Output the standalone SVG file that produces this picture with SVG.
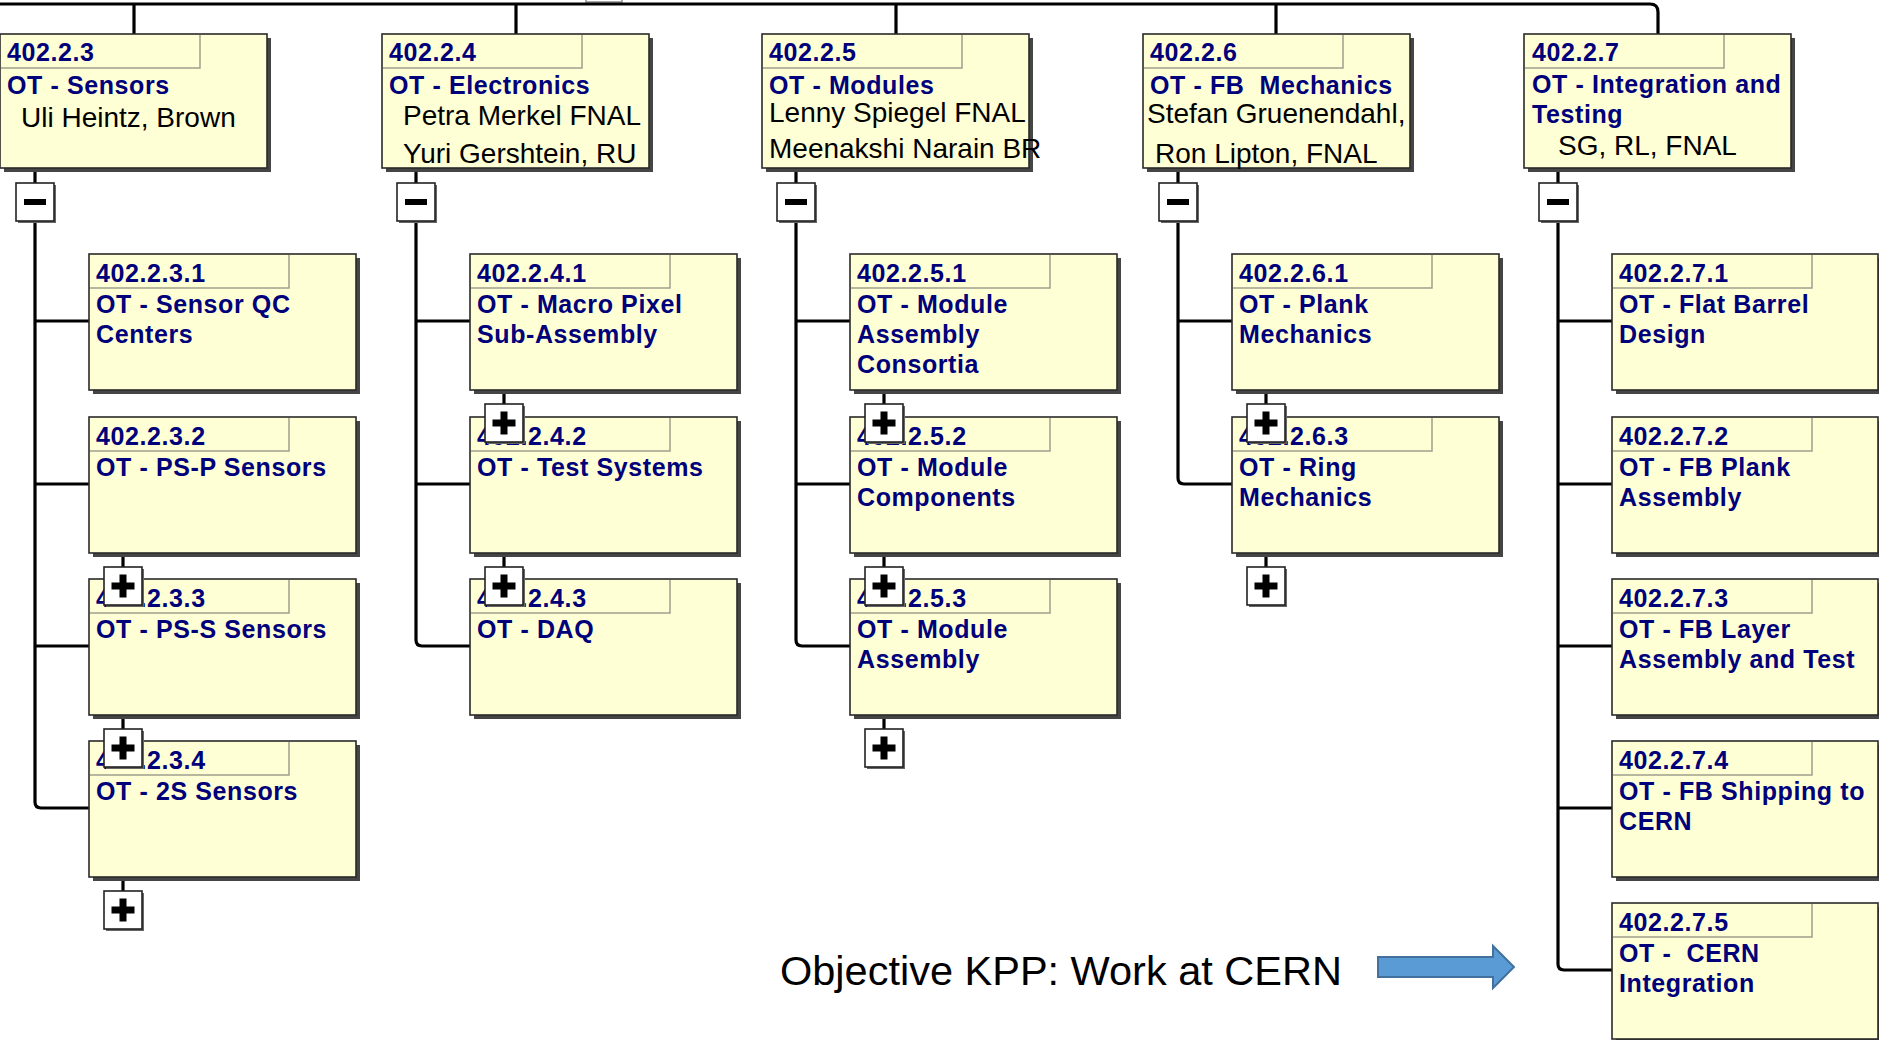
<svg xmlns="http://www.w3.org/2000/svg" width="1879" height="1040" viewBox="0 0 1879 1040">
<style>
.bg{fill:#ffffff}
.ln{fill:none;stroke:#000;stroke-width:3.2;stroke-linejoin:round}
.sh{fill:#454545}
.bx{fill:#ffffd6;stroke:#2a2a2a;stroke-width:1.6}
.idc{fill:none;stroke:#a09f8c;stroke-width:1.5}
.id,.t{font-family:"Liberation Sans",Arial,sans-serif;font-weight:bold;font-size:25px;letter-spacing:0.6px;fill:#00007a;white-space:pre}
.nm{font-family:"Liberation Sans",Arial,sans-serif;font-size:28px;fill:#000}
.tg{fill:#fff;stroke:#222;stroke-width:1.6}
.tgs{fill:#666}
.gl{fill:#000}
.obj{font-family:"Liberation Sans",Arial,sans-serif;font-size:41.5px;fill:#000}
</style>
<defs>
<g id="minus"><rect class="tgs" x="2" y="2" width="38" height="38"/><rect class="tg" width="38" height="38"/><rect class="gl" x="8" y="16" width="22" height="6"/></g>
<g id="plus"><rect class="tgs" x="2" y="2" width="38" height="38"/><rect class="tg" width="38" height="38"/><rect class="gl" x="7.5" y="15.5" width="23" height="7"/><rect class="gl" x="15.5" y="7.5" width="7" height="23"/></g>
</defs>
<rect class="bg" width="1879" height="1040"/>
<rect x="586" y="-20" width="36" height="22" fill="#fff" stroke="#8a8a8a" stroke-width="1.5"/>

<g id="connectors">
<path class="ln" d="M0,4H1650Q1658,4 1658,12V34M134,4V34M516,4V34M896,4V34M1276,4V34"/>
<path class="ln" d="M35,168V183M35,221V802Q35,808 41,808H89M35,321H89M35,484H89M35,646H89M123,553V567M123,715V729M123,877V891"/>
<path class="ln" d="M416,168V183M416,221V640Q416,646 422,646H470M416,321H470M416,484H470M504,390V404M504,553V567"/>
<path class="ln" d="M796,168V183M796,221V640Q796,646 802,646H850M796,321H850M796,484H850M884,390V404M884,553V567M884,715V729"/>
<path class="ln" d="M1178,168V183M1178,221V478Q1178,484 1184,484H1232M1178,321H1232M1266,390V404M1266,553V567"/>
<path class="ln" d="M1558,168V183M1558,221V964Q1558,970 1564,970H1612M1558,321H1612M1558,484H1612M1558,646H1612M1558,808H1612"/>
</g>

<g id="n402.2.3" transform="translate(0,34)">
<rect class="sh" x="4" y="4" width="267" height="134"/><rect class="bx" width="267" height="134"/>
<path class="idc" d="M1,34H200V1"/>
<text class="id" x="7" y="27">402.2.3</text>
<text class="t" x="7" y="60">OT - Sensors</text>
<text class="nm" x="21" y="93">Uli Heintz, Brown</text>
</g>
<g id="n402.2.4" transform="translate(382,34)">
<rect class="sh" x="4" y="4" width="267" height="134"/><rect class="bx" width="267" height="134"/>
<path class="idc" d="M1,34H200V1"/>
<text class="id" x="7" y="27">402.2.4</text>
<text class="t" x="7" y="60">OT - Electronics</text>
<text class="nm" x="21" y="91">Petra Merkel FNAL</text>
<text class="nm" x="21" y="129">Yuri Gershtein, RU</text>
</g>
<g id="n402.2.5" transform="translate(762,34)">
<rect class="sh" x="4" y="4" width="267" height="134"/><rect class="bx" width="267" height="134"/>
<path class="idc" d="M1,34H200V1"/>
<text class="id" x="7" y="27">402.2.5</text>
<text class="t" x="7" y="60">OT - Modules</text>
<text class="nm" x="7" y="88">Lenny Spiegel FNAL</text>
<text class="nm" x="7" y="124">Meenakshi Narain BR</text>
</g>
<g id="n402.2.6" transform="translate(1143,34)">
<rect class="sh" x="4" y="4" width="267" height="134"/><rect class="bx" width="267" height="134"/>
<path class="idc" d="M1,34H200V1"/>
<text class="id" x="7" y="27">402.2.6</text>
<text class="t" x="7" y="60">OT - FB  Mechanics</text>
<text class="nm" x="4" y="89">Stefan Gruenendahl,</text>
<text class="nm" x="12" y="129">Ron Lipton, FNAL</text>
</g>
<g id="n402.2.7" transform="translate(1524,34)">
<rect class="sh" x="4" y="4" width="267" height="134"/><rect class="bx" width="267" height="134"/>
<path class="idc" d="M1,34H200V1"/>
<text class="id" x="8" y="27">402.2.7</text>
<text class="t" x="8" y="59">OT - Integration and</text>
<text class="t" x="8" y="89">Testing</text>
<text class="nm" x="34" y="121">SG, RL, FNAL</text>
</g>

<g id="n402.2.3.1" transform="translate(89,254)">
<rect class="sh" x="4" y="4" width="267" height="136"/><rect class="bx" width="267" height="136"/>
<path class="idc" d="M1,34H200V1"/>
<text class="id" x="7" y="28">402.2.3.1</text>
<text class="t" x="7" y="59">OT - Sensor QC</text>
<text class="t" x="7" y="89">Centers</text>
</g>
<g id="n402.2.3.2" transform="translate(89,417)">
<rect class="sh" x="4" y="4" width="267" height="136"/><rect class="bx" width="267" height="136"/>
<path class="idc" d="M1,34H200V1"/>
<text class="id" x="7" y="28">402.2.3.2</text>
<text class="t" x="7" y="59">OT - PS-P Sensors</text>
</g>
<g id="n402.2.3.3" transform="translate(89,579)">
<rect class="sh" x="4" y="4" width="267" height="136"/><rect class="bx" width="267" height="136"/>
<path class="idc" d="M1,34H200V1"/>
<text class="id" x="7" y="28">402.2.3.3</text>
<text class="t" x="7" y="59">OT - PS-S Sensors</text>
</g>
<g id="n402.2.3.4" transform="translate(89,741)">
<rect class="sh" x="4" y="4" width="267" height="136"/><rect class="bx" width="267" height="136"/>
<path class="idc" d="M1,34H200V1"/>
<text class="id" x="7" y="28">402.2.3.4</text>
<text class="t" x="7" y="59">OT - 2S Sensors</text>
</g>

<g id="n402.2.4.1" transform="translate(470,254)">
<rect class="sh" x="4" y="4" width="267" height="136"/><rect class="bx" width="267" height="136"/>
<path class="idc" d="M1,34H200V1"/>
<text class="id" x="7" y="28">402.2.4.1</text>
<text class="t" x="7" y="59">OT - Macro Pixel</text>
<text class="t" x="7" y="89">Sub-Assembly</text>
</g>
<g id="n402.2.4.2" transform="translate(470,417)">
<rect class="sh" x="4" y="4" width="267" height="136"/><rect class="bx" width="267" height="136"/>
<path class="idc" d="M1,34H200V1"/>
<text class="id" x="7" y="28">402.2.4.2</text>
<text class="t" x="7" y="59">OT - Test Systems</text>
</g>
<g id="n402.2.4.3" transform="translate(470,579)">
<rect class="sh" x="4" y="4" width="267" height="136"/><rect class="bx" width="267" height="136"/>
<path class="idc" d="M1,34H200V1"/>
<text class="id" x="7" y="28">402.2.4.3</text>
<text class="t" x="7" y="59">OT - DAQ</text>
</g>

<g id="n402.2.5.1" transform="translate(850,254)">
<rect class="sh" x="4" y="4" width="267" height="136"/><rect class="bx" width="267" height="136"/>
<path class="idc" d="M1,34H200V1"/>
<text class="id" x="7" y="28">402.2.5.1</text>
<text class="t" x="7" y="59">OT - Module</text>
<text class="t" x="7" y="89">Assembly</text>
<text class="t" x="7" y="119">Consortia</text>
</g>
<g id="n402.2.5.2" transform="translate(850,417)">
<rect class="sh" x="4" y="4" width="267" height="136"/><rect class="bx" width="267" height="136"/>
<path class="idc" d="M1,34H200V1"/>
<text class="id" x="7" y="28">402.2.5.2</text>
<text class="t" x="7" y="59">OT - Module</text>
<text class="t" x="7" y="89">Components</text>
</g>
<g id="n402.2.5.3" transform="translate(850,579)">
<rect class="sh" x="4" y="4" width="267" height="136"/><rect class="bx" width="267" height="136"/>
<path class="idc" d="M1,34H200V1"/>
<text class="id" x="7" y="28">402.2.5.3</text>
<text class="t" x="7" y="59">OT - Module</text>
<text class="t" x="7" y="89">Assembly</text>
</g>

<g id="n402.2.6.1" transform="translate(1232,254)">
<rect class="sh" x="4" y="4" width="267" height="136"/><rect class="bx" width="267" height="136"/>
<path class="idc" d="M1,34H200V1"/>
<text class="id" x="7" y="28">402.2.6.1</text>
<text class="t" x="7" y="59">OT - Plank</text>
<text class="t" x="7" y="89">Mechanics</text>
</g>
<g id="n402.2.6.3" transform="translate(1232,417)">
<rect class="sh" x="4" y="4" width="267" height="136"/><rect class="bx" width="267" height="136"/>
<path class="idc" d="M1,34H200V1"/>
<text class="id" x="7" y="28">402.2.6.3</text>
<text class="t" x="7" y="59">OT - Ring</text>
<text class="t" x="7" y="89">Mechanics</text>
</g>

<g id="n402.2.7.1" transform="translate(1612,254)">
<rect class="sh" x="4" y="4" width="267" height="136"/><rect class="bx" width="266" height="136"/>
<path class="idc" d="M1,34H200V1"/>
<text class="id" x="7" y="28">402.2.7.1</text>
<text class="t" x="7" y="59">OT - Flat Barrel</text>
<text class="t" x="7" y="89">Design</text>
</g>
<g id="n402.2.7.2" transform="translate(1612,417)">
<rect class="sh" x="4" y="4" width="267" height="136"/><rect class="bx" width="266" height="136"/>
<path class="idc" d="M1,34H200V1"/>
<text class="id" x="7" y="28">402.2.7.2</text>
<text class="t" x="7" y="59">OT - FB Plank</text>
<text class="t" x="7" y="89">Assembly</text>
</g>
<g id="n402.2.7.3" transform="translate(1612,579)">
<rect class="sh" x="4" y="4" width="267" height="136"/><rect class="bx" width="266" height="136"/>
<path class="idc" d="M1,34H200V1"/>
<text class="id" x="7" y="28">402.2.7.3</text>
<text class="t" x="7" y="59">OT - FB Layer</text>
<text class="t" x="7" y="89">Assembly and Test</text>
</g>
<g id="n402.2.7.4" transform="translate(1612,741)">
<rect class="sh" x="4" y="4" width="267" height="136"/><rect class="bx" width="266" height="136"/>
<path class="idc" d="M1,34H200V1"/>
<text class="id" x="7" y="28">402.2.7.4</text>
<text class="t" x="7" y="59">OT - FB Shipping to</text>
<text class="t" x="7" y="89">CERN</text>
</g>
<g id="n402.2.7.5" transform="translate(1612,903)">
<rect class="sh" x="4" y="4" width="267" height="136"/><rect class="bx" width="266" height="136"/>
<path class="idc" d="M1,34H200V1"/>
<text class="id" x="7" y="28">402.2.7.5</text>
<text class="t" x="7" y="59">OT -  CERN</text>
<text class="t" x="7" y="89">Integration</text>
</g>

<g id="toggles">
<use href="#minus" x="16" y="183"/>
<use href="#minus" x="397" y="183"/>
<use href="#minus" x="777" y="183"/>
<use href="#minus" x="1159" y="183"/>
<use href="#minus" x="1539" y="183"/>
<use href="#plus" x="104" y="567"/>
<use href="#plus" x="104" y="729"/>
<use href="#plus" x="104" y="891"/>
<use href="#plus" x="485" y="404"/>
<use href="#plus" x="485" y="567"/>
<use href="#plus" x="865" y="404"/>
<use href="#plus" x="865" y="567"/>
<use href="#plus" x="865" y="729"/>
<use href="#plus" x="1247" y="404"/>
<use href="#plus" x="1247" y="567"/>
</g>

<g id="objective">
<text class="obj" x="780" y="985">Objective KPP: Work at CERN</text>
<path d="M1378,957H1493V946L1514,967L1493,988V977H1378Z" fill="#5b9bd5" stroke="#41719c" stroke-width="2"/>
</g>
</svg>
